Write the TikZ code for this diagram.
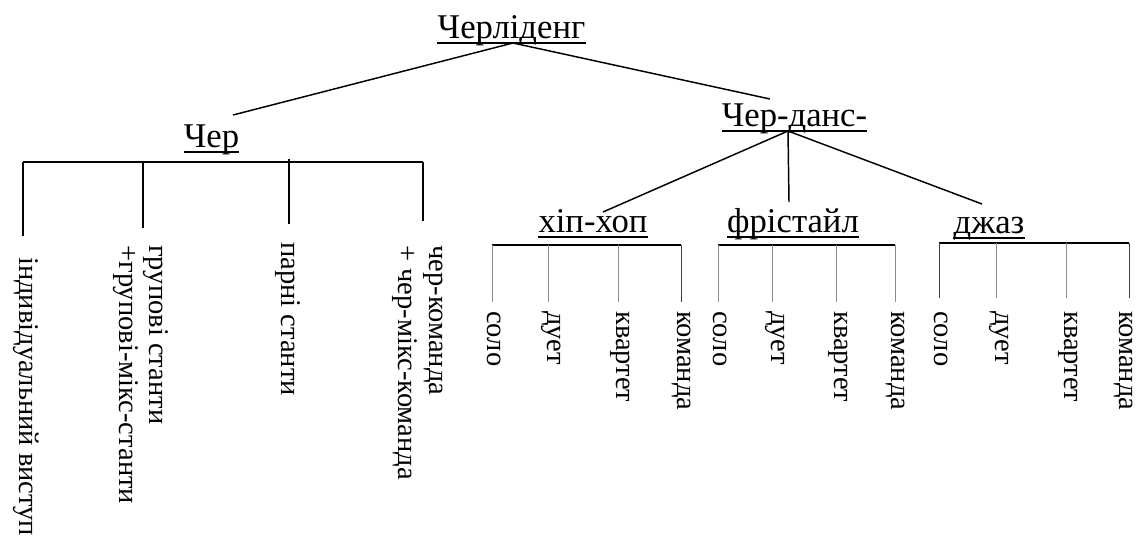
\documentclass[tikz,border=0pt]{standalone}
\usepackage{fontspec}
\setmainfont{Liberation Serif}
\newfontfamily\tnr{Liberation Serif}
\usetikzlibrary{calc}
\tikzset{
  lab/.style={inner sep=0pt, font=\tnr\fontsize{26pt}{30pt}\selectfont, anchor=base},
  leaf/.style={inner sep=0pt, font=\tnr\fontsize{21.4pt}{23pt}\selectfont, rotate=-90, anchor=west, align=left},
  conn/.style={line width=1.1pt, black},
  thinconn/.style={line width=0.7pt, black!45},
  uline/.style={line width=1.2pt, black},
}
\begin{document}
\begin{tikzpicture}[x=0.75pt,y=-0.75pt]
\useasboundingbox (0,0) rectangle (1139,536);
% labels
\node[lab] (root) at (511.5,38) {Черліденг};
\node[lab] (cher) at (211.5,147) {Чер};
\node[lab] (dans) at (794.5,126) {Чер-данс-};
\node[lab] (hip) at (593,232) {хіп-хоп};
\node[lab] (free) at (793,232) {фрістайл};
\node[lab] (jazz) at (989,233) {джаз};
\foreach \n in {root,cher,dans,hip,free,jazz}
  \draw[uline] ($(\n.base west)+(0,5)$) -- ($(\n.base east)+(0,5)$);
% junctions
\coordinate (rootj) at ($(root.base)+(1.5,5)$);
\coordinate (cherin) at (233,115);
\coordinate (dansin) at (770,99);
\coordinate (dansj) at (788,131);
\coordinate (hipin) at (603,212);
\coordinate (freein) at (789,202);
\coordinate (jazzin) at (982,204);
\draw[conn] (rootj) -- (cherin);
\draw[conn] (rootj) -- (dansin);
\draw[conn] (dansj) -- (hipin);
\draw[conn] (dansj) -- (freein);
\draw[conn] (dansj) -- (jazzin);
% Чер subtree
\coordinate (cb1) at (23,162);  \coordinate (ce1) at (23,236);
\coordinate (cb2) at (143,162); \coordinate (ce2) at (143,228);
\coordinate (cb3) at (289,159); \coordinate (ce3) at (289,224);
\coordinate (cb4) at (423,162); \coordinate (ce4) at (423,221);
\draw[conn] (cb1) -- (cb4);
\draw[conn] (cb1) -- (ce1);
\draw[conn] (cb2) -- (ce2);
\draw[conn] (cb3) -- (ce3);
\draw[conn] (cb4) -- (ce4);
\node[leaf] (l1) at (26,257) {індивідуальний виступ};
\node[leaf] (l2) at (141,245) {групові станти\\+групові-мікс-станти};
\node[leaf] (l3) at (288,242) {парні станти};
\node[leaf] (l4) at (418,245) {чер-команда\\+ чер-мікс-команда};
% хіп-хоп subtree
\coordinate (hb1) at (492,245);  \coordinate (he1) at (492,302);
\coordinate (hb2) at (548,245);  \coordinate (he2) at (548,302);
\coordinate (hb3) at (618,245);  \coordinate (he3) at (618,302);
\coordinate (hb4) at (681,245);  \coordinate (he4) at (681,302);
\draw[conn] (hb1) -- (hb4);
\draw[thinconn] (hb1) -- (he1);
\draw[thinconn] (hb2) -- (he2);
\draw[thinconn] (hb3) -- (he3);
\draw[thinconn, black!75] (hb4) -- (he4);
\node[leaf] (h1) at (494,311) {соло};
\node[leaf] (h2) at (551,311) {дует};
\node[leaf] (h3) at (620,311) {квартет};
\node[leaf] (h4) at (681,311) {команда};
% фрістайл subtree
\coordinate (fb1) at (718,245);  \coordinate (fe1) at (718,302);
\coordinate (fb2) at (772,245);  \coordinate (fe2) at (772,302);
\coordinate (fb3) at (836,245);  \coordinate (fe3) at (836,302);
\coordinate (fb4) at (895,245);  \coordinate (fe4) at (895,302);
\draw[conn] (fb1) -- (fb4);
\draw[thinconn] (fb1) -- (fe1);
\draw[thinconn] (fb2) -- (fe2);
\draw[thinconn] (fb3) -- (fe3);
\draw[thinconn] (fb4) -- (fe4);
\node[leaf] (f1) at (720,311) {соло};
\node[leaf] (f2) at (775,311) {дует};
\node[leaf] (f3) at (838,311) {квартет};
\node[leaf] (f4) at (895,311) {команда};
% джаз subtree
\coordinate (jb1) at (939,243);  \coordinate (je1) at (939,298);
\coordinate (jb2) at (996,243);  \coordinate (je2) at (996,298);
\coordinate (jb3) at (1066,243); \coordinate (je3) at (1066,298);
\coordinate (jb4) at (1129,243); \coordinate (je4) at (1129,298);
\draw[conn] (jb1) -- (jb4);
\draw[thinconn, black!75] (jb1) -- (je1);
\draw[thinconn] (jb2) -- (je2);
\draw[thinconn] (jb3) -- (je3);
\draw[thinconn, black!75] (jb4) -- (je4);
\node[leaf] (j1) at (941,311) {соло};
\node[leaf] (j2) at (999,311) {дует};
\node[leaf] (j3) at (1068,311) {квартет};
\node[leaf] (j4) at (1123,311) {команда};
\end{tikzpicture}
\end{document}
